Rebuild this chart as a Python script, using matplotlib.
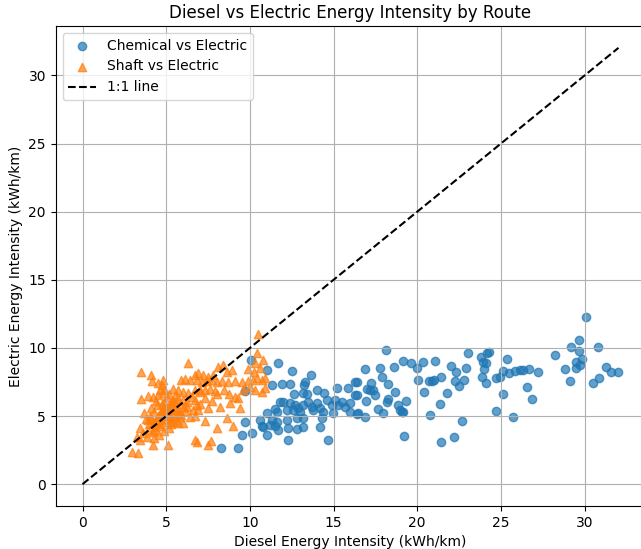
import matplotlib
matplotlib.use("Agg")
import matplotlib.pyplot as plt
import numpy as np

# ---------------- data ----------------
# chemical (diesel) vs electric, kWh/km
chem_diesel = [30.06, 29.64, 29.22, 30.78, 29.64, 28.21, 29.82, 29.52, 29.70, 29.52,
               28.81, 29.16, 30.48, 30.84, 31.31, 31.61, 32.03,
               19.13, 19.61, 19.97, 20.33, 21.04, 20.03, 20.69, 20.87, 20.99,
               21.40, 22.00, 22.30, 22.24, 22.48, 22.78, 22.90, 23.01, 23.79, 23.91,
               24.15, 24.27, 24.09, 23.97, 23.85, 24.09, 25.34, 24.69, 24.93, 25.10,
               25.46, 25.82, 26.12, 26.30, 26.66, 27.19, 25.10, 26.54, 26.84, 24.69,
               25.70, 20.42, 21.76, 21.34, 20.75, 22.66, 22.18, 21.40, 19.19, 19.31,
               19.13, 18.95, 18.12, 18.60, 16.87, 17.76, 17.88, 16.39, 17.22, 18.24,
               16.99, 17.16, 17.34, 17.46, 16.39, 18.66, 16.93, 18.24, 18.18, 18.84,
               19.07, 17.64, 17.94, 16.39, 16.87,
               11.67, 12.51, 13.64, 11.91, 12.39, 13.28, 13.22, 12.63, 13.16, 13.40,
               14.00, 14.42, 15.19, 15.85, 16.27, 16.27, 11.79, 11.97, 12.39, 12.69,
               12.87, 13.16, 13.46, 13.70, 13.76, 14.00, 14.18, 14.36, 14.60, 14.90,
               15.07, 15.25, 15.49, 15.67, 15.97, 11.61, 12.21, 12.57, 12.99, 15.97,
               16.45, 11.31, 11.61, 12.21, 12.81, 13.16, 12.27, 12.81, 13.16, 14.18,
               12.27, 14.66, 14.30, 14.96, 11.01, 11.01, 10.72, 11.01, 11.49, 11.67,
               10.06, 11.31, 9.70, 11.49, 10.60, 10.78, 11.19, 10.12, 9.52, 8.27,
               9.28, 9.70]
chem_electric = [12.25, 10.56, 10.05, 10.10, 9.76, 9.46, 9.17, 8.95, 8.73, 8.51,
                 8.44, 7.56, 7.41, 7.78, 8.58, 8.22, 8.22,
                 9.02, 8.88, 8.51, 8.95, 9.02, 7.63, 7.56, 7.56, 7.63,
                 7.85, 8.66, 8.22, 7.56, 7.19, 7.63, 8.51, 9.61, 9.32, 8.95,
                 9.61, 9.68, 8.88, 8.44, 7.85, 7.41, 9.17, 7.78, 7.85, 8.29,
                 8.14, 8.29, 8.36, 8.36, 8.44, 8.22, 6.60, 7.12, 6.24, 5.36,
                 4.92, 6.75, 6.68, 5.87, 5.06, 4.62, 3.45, 3.08, 3.52, 6.09,
                 5.28, 5.43, 9.83, 8.58, 8.44, 8.51, 7.85, 7.48, 7.41, 7.34,
                 6.97, 6.90, 6.90, 6.53, 6.53, 6.75, 6.09, 6.24, 6.02, 5.80,
                 5.28, 5.50, 5.21, 5.14, 4.92,
                 8.88, 8.29, 8.00, 7.34, 7.34, 7.48, 7.26, 6.60, 6.68, 6.60,
                 6.90, 6.68, 7.04, 7.04, 7.48, 6.53, 6.02, 6.02, 5.94, 5.80,
                 5.58, 5.80, 6.02, 5.65, 5.43, 5.94, 5.58, 5.28, 6.16, 5.80,
                 6.16, 5.80, 6.02, 5.65, 5.94, 5.28, 5.43, 5.43, 5.28, 5.28,
                 5.21, 4.70, 4.55, 4.70, 4.84, 4.84, 4.11, 4.04, 4.18, 4.18,
                 3.23, 3.23, 4.84, 5.21, 8.36, 5.21, 4.26, 3.60, 4.26, 3.96,
                 9.10, 7.26, 6.82, 5.50, 4.70, 4.18, 4.33, 3.74, 3.60, 2.64,
                 2.64, 4.55]

# shaft (diesel) vs electric
shaft_diesel = [6.30, 3.49, 4.09, 4.15, 4.81, 5.88, 6.12, 6.42, 6.72, 3.49,
                3.91, 4.21, 4.51, 4.81, 4.75, 4.63, 5.70, 6.00, 6.30, 6.54,
                6.72, 7.01, 3.43, 3.61, 3.91, 4.21, 3.25, 3.43, 4.21, 5.10,
                2.96, 3.31, 6.72, 5.40, 5.82, 6.24, 6.60, 5.64, 6.00,
                10.49, 10.42, 10.78, 10.30, 9.88, 10.24, 10.60, 8.09, 8.39, 8.93,
                8.63, 6.90, 7.19, 7.49, 7.79, 6.84, 7.13, 7.43, 7.73, 8.03,
                8.33, 8.69, 9.10, 9.52, 9.88, 10.18, 10.42, 10.72, 10.90, 6.72,
                7.01, 7.31, 7.61, 7.91, 10.30, 10.72, 10.90, 8.81, 9.40, 7.49,
                9.28, 6.90, 6.84, 7.31, 8.63, 8.99, 8.03, 6.84, 7.49, 7.67,
                9.10, 8.21,
                4.05, 4.25, 4.35, 4.45, 4.55, 4.65, 4.80, 4.90, 5.00, 5.10,
                5.20, 5.30, 5.40, 5.50, 5.60, 5.70, 5.80, 5.90, 6.00, 6.10,
                6.25, 3.95, 4.10, 4.30, 4.40, 4.65, 4.85, 4.95, 5.05, 5.15,
                5.25, 5.35, 5.45, 5.55, 5.65, 5.85, 6.05, 3.80, 3.70, 3.85,
                4.25, 4.55, 4.75, 5.15, 5.40, 4.90, 4.50, 5.20, 4.70, 5.00,
                5.70, 6.40, 6.70, 7.05, 7.35, 7.75, 8.05, 8.45, 8.75, 9.60,
                10.00,
                4.20, 4.40, 4.60, 4.80, 5.00, 5.20, 4.35, 4.55, 4.75, 4.95,
                5.15, 5.35, 4.10, 4.50, 4.90, 5.30, 3.90, 4.70, 5.10, 5.50]
shaft_electric = [8.88, 8.22, 8.00, 7.56, 7.63, 7.63, 7.70, 7.63, 8.00, 6.24,
                  6.46, 6.38, 6.53, 6.68, 7.26, 6.90, 6.90, 6.75, 6.68, 6.38,
                  6.16, 6.90, 4.11, 3.74, 3.96, 3.82, 3.45, 3.23, 2.86, 2.86,
                  2.35, 2.27, 3.23, 5.43, 5.28, 5.65, 5.43, 4.70, 4.48,
                  11.00, 9.61, 9.10, 8.88, 8.44, 8.22, 8.51, 8.58, 8.73, 8.36,
                  8.22, 8.14, 8.00, 7.85, 8.00, 7.63, 7.48, 7.56, 7.63, 7.48,
                  7.56, 7.48, 7.56, 7.48, 7.56, 7.63, 7.78, 7.63, 7.78, 6.90,
                  6.75, 6.90, 6.97, 6.82, 6.90, 6.75, 7.04, 5.94, 5.58, 5.58,
                  6.31, 5.43, 5.80, 4.62, 4.84, 4.26, 4.11, 3.08, 2.86, 3.15,
                  6.38, 5.65,
                  5.00, 5.30, 4.60, 5.80, 5.10, 4.30, 5.50, 6.00, 4.80, 5.20,
                  5.70, 4.40, 6.10, 5.00, 5.60, 6.30, 5.90, 5.10, 6.20, 5.40,
                  6.00, 4.40, 5.60, 4.00, 6.10, 4.70, 3.90, 5.30, 6.40, 4.10,
                  5.00, 5.90, 4.60, 6.50, 5.20, 4.90, 5.70, 4.80, 5.20, 3.50,
                  3.40, 3.60, 5.90, 6.60, 7.00, 7.00, 7.40, 4.60, 5.00, 5.60,
                  4.50, 4.90, 5.00, 5.90, 6.30, 6.10, 6.60, 6.90, 6.60, 6.90,
                  7.10,
                  4.50, 4.70, 4.90, 5.10, 5.30, 5.50, 4.20, 4.40, 4.60, 5.40,
                  5.80, 6.10, 4.80, 5.00, 5.70, 4.80, 4.70, 5.20, 5.50, 6.00]

# ---------------------- plot ----------------------
fig = plt.figure(figsize=(6.41, 5.49), dpi=100)
ax = fig.add_axes([0.0869, 0.0783, 0.9198, 0.8743])

ax.scatter(chem_diesel, chem_electric, alpha=0.7, label="Chemical vs Electric")
ax.scatter(shaft_diesel, shaft_electric, alpha=0.7, marker="^", label="Shaft vs Electric")

lim = max(max(chem_diesel), max(shaft_diesel))
ax.plot([0, lim], [0, lim], "k--", label="1:1 line")

ax.set_xlabel("Diesel Energy Intensity (kWh/km)")
ax.set_ylabel("Electric Energy Intensity (kWh/km)")
ax.set_title("Diesel vs Electric Energy Intensity by Route")
ax.legend(loc="upper left")
ax.grid(True)

fig.savefig("out.png", dpi=100)
